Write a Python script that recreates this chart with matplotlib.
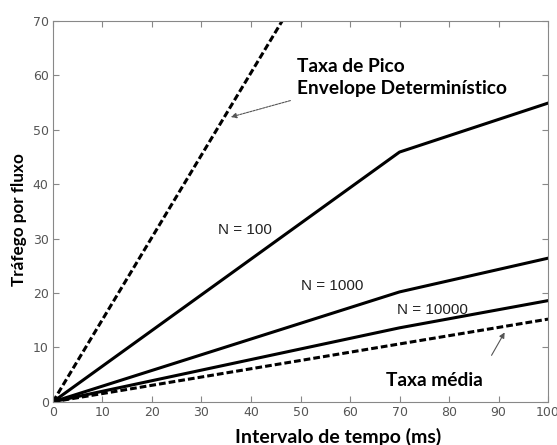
import numpy as np
import matplotlib.pyplot as plt

# dados
x_pico = [0, 46.3]
y_pico = [0, 70]
x_n = [0, 70, 100]
n100 = [0, 45.9, 54.9]
n1000 = [0, 20.2, 26.4]
n10000 = [0, 13.6, 18.6]
x_media = [0, 100]
y_media = [0, 15.2]

rotulos = ['N = 100', 'N = 1000', 'N = 10000']
pos_rotulos = [(33.3, 31.6), (50.0, 21.3), (69.5, 16.9)]

fig = plt.figure(figsize=(5.57, 4.45), dpi=100)
ax = fig.add_axes([0.095, 0.097, 0.889, 0.856])

ax.plot(x_pico, y_pico, color='black', lw=2.2, ls=(0, (2.2, 1.0)))
for serie in [n100, n1000, n10000]:
    ax.plot(x_n, serie, color='black', lw=2.2)
ax.plot(x_media, y_media, color='black', lw=2.2, ls=(0, (2.2, 1.0)))

for txt, (tx, ty) in zip(rotulos, pos_rotulos):
    ax.text(tx, ty, txt, fontsize=11, family='Liberation Sans', color='#222222',
            va='center', ha='left')

ax.text(49.2, 59.6, 'Taxa de Pico\nEnvelope Determinístico', fontsize=13.8,
        family='Lato', fontweight='bold', va='center', ha='left', linespacing=1.3)
ax.text(67.3, 4.0, 'Taxa média', fontsize=13.8, family='Lato',
        fontweight='bold', va='center', ha='left')

ax.annotate('', xy=(35.4, 52.2), xytext=(48.5, 55.5),
            arrowprops=dict(arrowstyle='-|>', color='#555555', lw=0.8,
                            ls=(0, (2, 1)), mutation_scale=8))
ax.annotate('', xy=(91.5, 13.2), xytext=(88.3, 8.1),
            arrowprops=dict(arrowstyle='-|>', color='#555555', lw=0.8,
                            mutation_scale=8))

ax.set_xlim(0, 100)
ax.set_ylim(0, 70)
ax.set_xticks(np.arange(0, 101, 10))
ax.set_yticks(np.arange(0, 71, 10))
ax.tick_params(direction='in', top=True, right=True, labelsize=9,
               labelcolor='#555555', color='#888888', length=4, pad=3)
for s in ax.spines.values():
    s.set_color('#888888')

ax.set_xlabel('Intervalo de tempo (ms)', fontsize=14, family='Lato',
              fontweight='bold', va='center')
ax.xaxis.set_label_coords(0.576, -0.093)
ax.set_ylabel('Tráfego por fluxo', fontsize=12.3, family='Lato',
              fontweight='bold', va='center')
ax.yaxis.set_label_coords(-0.069, 0.478)

fig.savefig('out.png', dpi=100)
